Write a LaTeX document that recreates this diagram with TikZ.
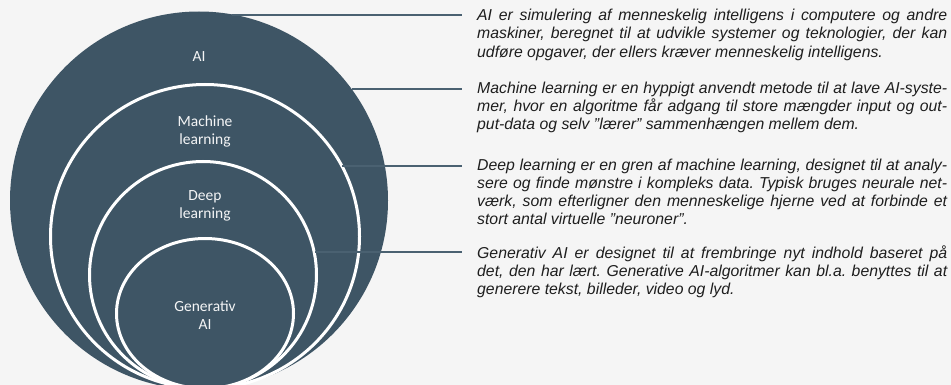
\documentclass[tikz,border=0pt]{standalone}
\usepackage{fontspec}
\setmainfont{Liberation Sans}
\newfontfamily\calibri{Carlito}
\usetikzlibrary{shapes.geometric}
\frenchspacing

\definecolor{skifer}{HTML}{3E5565}
\definecolor{baggrund}{HTML}{F5F5F5}
\definecolor{streg}{HTML}{4A6171}
\definecolor{tekst}{HTML}{1E1E1E}

% justeret linje
\newcommand{\jline}[1]{\makebox[470pt][s]{#1}\\}

\begin{document}
\begin{tikzpicture}[%
        x=1pt, y=-1pt,
        disc/.style={ellipse, fill=skifer, inner sep=0pt},
        ring/.style={disc, draw=white, line width=3pt},
        etiket/.style={text=white!94!skifer, align=center,
            font=\calibri\fontsize{15.5}{18}\selectfont},
        afsnit/.style={anchor=base west, inner sep=0pt, align=left, text=tekst,
            font=\itshape\fontsize{15.8}{18.3}\selectfont},
        leder/.style={draw=streg, line width=1.5pt, shorten >=15pt}
        ]
            \useasboundingbox (0,0) rectangle (951,385);
            \fill [baggrund] (0,0) rectangle (951,385);
            \clip (0,0) rectangle (951,385);

            % Cirkler
            \node [disc, minimum width=378pt, minimum height=378pt] (ai)  at (199,200.5) {};
            \node [ring, minimum width=309pt, minimum height=304pt] (ml)  at (205,236.5) {};
            \node [ring, minimum width=227pt, minimum height=227pt] (dl)  at (203,275) {};
            \node [ring, minimum width=177pt, minimum height=150pt] (gai) at (205,313.5) {};

            % Tekster (base = sidste linje)
            \node [afsnit] (t1) at (477,57.3) {%
                \jline{AI er simulering af menneskelig intelligens i computere og andre}
                \jline{maskiner, beregnet til at udvikle systemer og teknologier, der kan}
                udføre opgaver, der ellers kræver menneskelig intelligens.};
            \node [afsnit] (t2) at (477,129.9) {%
                \jline{Machine learning er en hyppigt anvendt metode til at lave AI-syste-}
                \jline{mer, hvor en algoritme får adgang til store mængder input og out-}
                put-data og selv ”lærer” sammenhængen mellem dem.};
            \node [afsnit] (t3) at (477,224.9) {%
                \jline{Deep learning er en gren af machine learning, designet til at analy-}
                \jline{sere og finde mønstre i kompleks data. Typisk bruges neurale net-}
                \jline{værk, som efterligner den menneskelige hjerne ved at forbinde et}
                stort antal virtuelle ”neuroner”.};
            \node [afsnit] (t4) at (477,294.6) {%
                \jline{Generativ AI er designet til at frembringe nyt indhold baseret på}
                \jline{det, den har lært. Generative AI-algoritmer kan bl.a. benyttes til at}
                generere tekst, billeder, video og lyd.};

            % Linjer
            \coordinate (l1) at (232,15);
            \coordinate (l2) at (352,89);
            \coordinate (l3) at (342,166);
            \coordinate (l4) at (315,252);
            \draw [leder] (l1) -- (l1 -| t1.west);
            \draw [leder] (l2) -- (l2 -| t2.west);
            \draw [leder] (l3) -- (l3 -| t3.west);
            \draw [leder] (l4) -- (l4 -| t4.west);

            % Etiketter
            \node [etiket] (nai)  at (199,57)  {AI};
            \node [etiket] (nml)  at (205,131) {Machine\\learning};
            \node [etiket] (ndl)  at (205,206) {Deep\\learning};
            \node [etiket] (ngai) at (205,315) {Generativ\\AI};
        \end{tikzpicture}
\end{document}
